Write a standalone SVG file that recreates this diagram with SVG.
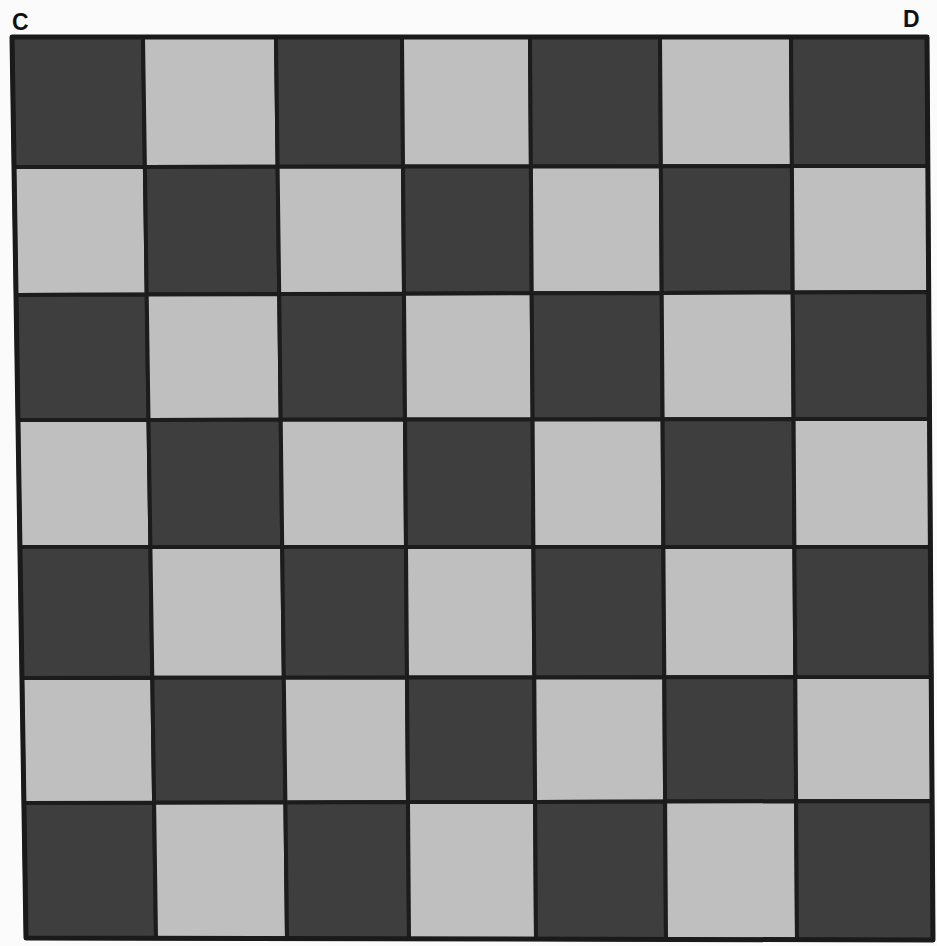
<svg xmlns="http://www.w3.org/2000/svg" width="937" height="946" viewBox="0 0 937 946">
<style>
.d{fill:#3e3e3e;stroke:#1c1c1c;stroke-width:4;stroke-linejoin:round}
.l{fill:#bfbfbf;stroke:#1c1c1c;stroke-width:4;stroke-linejoin:round}
.edge{fill:none;stroke:#1a1a1a;stroke-width:5;stroke-linejoin:round}
.lbl{font-family:"Liberation Sans",Arial,sans-serif;font-weight:bold;font-size:23px;fill:#111}
</style>
<rect width="937" height="946" fill="#fbfbfb"/>
<g id="labels">
<text class="lbl" x="12" y="30">C</text>
<text class="lbl" x="903" y="27">D</text>
</g>
<g id="board">
<g id="row0">
<polygon class="d" points="12,37 143,37 144.9,166.9 14,167"/>
<polygon class="l" points="143,37 276,37 277.6,166.7 144.9,166.9"/>
<polygon class="d" points="276,37 402,37 403,166.6 277.6,166.7"/>
<polygon class="l" points="402,37 530,37 530.9,166.4 403,166.6"/>
<polygon class="d" points="530,37 660,37 660.9,166.3 530.9,166.4"/>
<polygon class="l" points="660,37 791,37 791.9,166.1 660.9,166.3"/>
<polygon class="d" points="791,37 927,37 927.9,166 791.9,166.1"/>
</g>
<g id="row1">
<polygon class="l" points="14,167 144.9,166.9 146.7,294.6 16,295"/>
<polygon class="d" points="144.9,166.9 277.6,166.7 279.2,294.1 146.7,294.6"/>
<polygon class="l" points="277.6,166.7 403,166.6 404,293.7 279.2,294.1"/>
<polygon class="d" points="403,166.6 530.9,166.4 531.7,293.3 404,293.7"/>
<polygon class="l" points="530.9,166.4 660.9,166.3 661.7,292.9 531.7,293.3"/>
<polygon class="d" points="660.9,166.3 791.9,166.1 792.7,292.4 661.7,292.9"/>
<polygon class="l" points="791.9,166.1 927.9,166 928.7,292 792.7,292.4"/>
</g>
<g id="row2">
<polygon class="d" points="16,295 146.7,294.6 148.5,419.9 18,420"/>
<polygon class="l" points="146.7,294.6 279.2,294.1 280.7,419.7 148.5,419.9"/>
<polygon class="d" points="279.2,294.1 404,293.7 405,419.6 280.7,419.7"/>
<polygon class="l" points="404,293.7 531.7,293.3 532.6,419.4 405,419.6"/>
<polygon class="d" points="531.7,293.3 661.7,292.9 662.6,419.3 532.6,419.4"/>
<polygon class="l" points="661.7,292.9 792.7,292.4 793.6,419.1 662.6,419.3"/>
<polygon class="d" points="792.7,292.4 928.7,292 929.6,419 793.6,419.1"/>
</g>
<g id="row3">
<polygon class="l" points="18,420 148.5,419.9 150.4,547 19.9,547"/>
<polygon class="d" points="148.5,419.9 280.7,419.7 282.2,547 150.4,547"/>
<polygon class="l" points="280.7,419.7 405,419.6 406,547 282.2,547"/>
<polygon class="d" points="405,419.6 532.6,419.4 533.4,547 406,547"/>
<polygon class="l" points="532.6,419.4 662.6,419.3 663.4,547 533.4,547"/>
<polygon class="d" points="662.6,419.3 793.6,419.1 794.4,547 663.4,547"/>
<polygon class="l" points="793.6,419.1 929.6,419 930.4,547 794.4,547"/>
</g>
<g id="row4">
<polygon class="d" points="19.9,547 150.4,547 152.3,677.8 22,678"/>
<polygon class="l" points="150.4,547 282.2,547 283.8,677.7 152.3,677.8"/>
<polygon class="d" points="282.2,547 406,547 407,677.6 283.8,677.7"/>
<polygon class="l" points="406,547 533.4,547 534.3,677.4 407,677.6"/>
<polygon class="d" points="533.4,547 663.4,547 664.3,677.3 534.3,677.4"/>
<polygon class="l" points="663.4,547 794.4,547 795.3,677.1 664.3,677.3"/>
<polygon class="d" points="794.4,547 930.4,547 931.3,677 795.3,677.1"/>
</g>
<g id="row5">
<polygon class="l" points="22,678 152.3,677.8 154.1,802.7 23.9,803"/>
<polygon class="d" points="152.3,677.8 283.8,677.7 285.4,802.4 154.1,802.7"/>
<polygon class="l" points="283.8,677.7 407,677.6 408,802.1 285.4,802.4"/>
<polygon class="d" points="407,677.6 534.3,677.4 535.1,801.9 408,802.1"/>
<polygon class="l" points="534.3,677.4 664.3,677.3 665.1,801.6 535.1,801.9"/>
<polygon class="d" points="664.3,677.3 795.3,677.1 796.1,801.3 665.1,801.6"/>
<polygon class="l" points="795.3,677.1 931.3,677 932.1,801 796.1,801.3"/>
</g>
<g id="row6">
<polygon class="d" points="23.9,803 154.1,802.7 156,938.3 26,938"/>
<polygon class="l" points="154.1,802.7 285.4,802.4 287,938.6 156,938.3"/>
<polygon class="d" points="285.4,802.4 408,802.1 409,938.9 287,938.6"/>
<polygon class="l" points="408,802.1 535.1,801.9 536,939.1 409,938.9"/>
<polygon class="d" points="535.1,801.9 665.1,801.6 666,939.4 536,939.1"/>
<polygon class="l" points="665.1,801.6 796.1,801.3 797,939.7 666,939.4"/>
<polygon class="d" points="796.1,801.3 932.1,801 933,940 797,939.7"/>
</g>
<polygon id="outline" class="edge" points="12,37 927,37 933,940 26,938"/>
</g>
</svg>
